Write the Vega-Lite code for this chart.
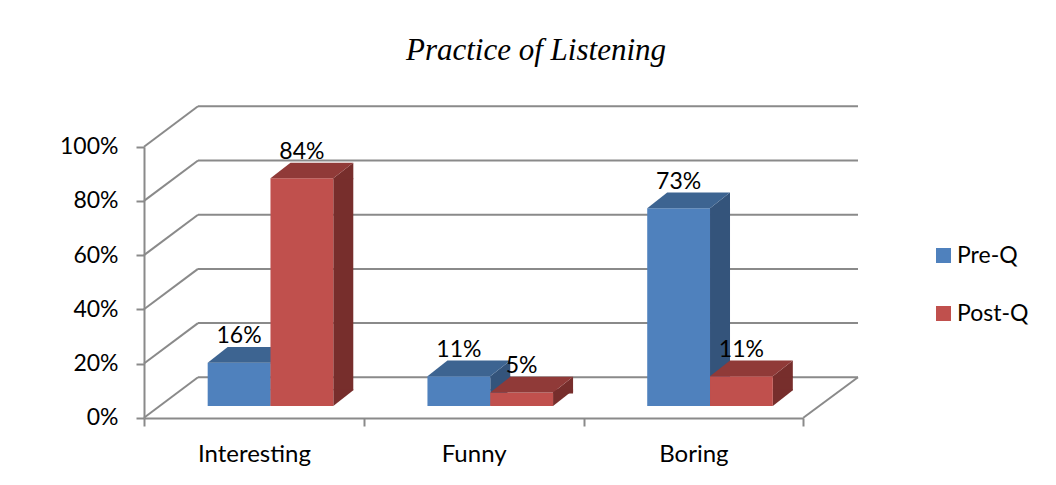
{
  "$schema": "https://vega.github.io/schema/vega-lite/v6.json",
  "width": 714,
  "height": 312,
  "autosize": {"type": "none"},
  "padding": {"left": 144, "top": 106, "right": 198, "bottom": 67},
  "background": "white",
  "title": {
    "text": "Practice of Listening",
    "font": "Liberation Serif",
    "fontStyle": "italic",
    "fontWeight": "normal",
    "fontSize": 31,
    "color": "#000000",
    "anchor": "middle",
    "frame": "group",
    "baseline": "alphabetic",
    "dx": 35,
    "offset": 14
  },
  "datasets": {
    "answers": [
      {"category": "Interesting", "series": "Pre-Q", "value": 0.16},
      {"category": "Interesting", "series": "Post-Q", "value": 0.84},
      {"category": "Funny", "series": "Pre-Q", "value": 0.11},
      {"category": "Funny", "series": "Post-Q", "value": 0.05},
      {"category": "Boring", "series": "Pre-Q", "value": 0.73},
      {"category": "Boring", "series": "Post-Q", "value": 0.11}
    ],
    "grid": [{"v": 0}, {"v": 0.2}, {"v": 0.4}, {"v": 0.6}, {"v": 0.8}, {"v": 1}],
    "floor": [{"v": 0}]
  },
  "data": {"name": "answers"},
  "layer": [
    {
      "data": {"name": "grid"},
      "mark": {"type": "rule", "stroke": "#8a8a8a", "strokeWidth": 2, "xOffset": 54, "yOffset": -40.4, "y2Offset": -40.4},
      "encoding": {
        "x": {"value": 0},
        "x2": {"value": "width"},
        "y": {
          "field": "v", "type": "quantitative", "title": null,
          "scale": {"domain": [0, 1], "range": [311.7, 40.7], "nice": false, "zero": false},
          "axis": {"values": [0, 0.2, 0.4, 0.6, 0.8, 1], "format": ".0%"}
        },
        "y2": {"field": "v"}
      }
    },
    {
      "data": {"name": "grid"},
      "mark": {"type": "rule", "stroke": "#8a8a8a", "strokeWidth": 2, "x2Offset": 54, "y2Offset": -40.4},
      "encoding": {
        "x": {"value": 0},
        "x2": {"value": 0},
        "y": {"field": "v", "type": "quantitative", "title": null},
        "y2": {"field": "v"}
      }
    },
    {
      "data": {"name": "floor"},
      "mark": {"type": "rule", "stroke": "#8a8a8a", "strokeWidth": 2, "xOffset": -54.7, "y2Offset": -40.4},
      "encoding": {
        "x": {"value": "width"},
        "x2": {"value": "width"},
        "y": {"field": "v", "type": "quantitative", "title": null},
        "y2": {"field": "v"}
      }
    },
    {
      "transform": [{"filter": "datum.series === 'Pre-Q'"}],
      "mark": {"type": "bar", "width": 20, "xOffset": 26.6, "yOffset": -11.7, "y2Offset": -27.4, "color": "#34547b"},
      "encoding": {
        "x": {"field": "category", "type": "nominal", "sort": ["Interesting", "Funny", "Boring"], "title": null,
              "scale": {"type": "band", "range": [0, 659.3], "paddingInner": 0, "paddingOuter": 0},
              "axis": {"labelFontSize": 24}},
        "y": {"field": "value", "type": "quantitative", "title": null},
        "y2": {"datum": 0}
      }
    },
    {
      "transform": [{"filter": "datum.series === 'Pre-Q'"}],
      "mark": {"type": "point", "shape": "M31.4,1L31.4,0L51.4,-15.7L51.4,1Z", "size": 4, "filled": true, "opacity": 1, "strokeWidth": 0, "xOffset": -14.8, "yOffset": -11.7, "color": "#34547b"},
      "encoding": {
        "x": {"field": "category", "type": "nominal", "sort": ["Interesting", "Funny", "Boring"], "title": null},
        "y": {"field": "value", "type": "quantitative", "title": null}
      }
    },
    {
      "transform": [{"filter": "datum.series === 'Pre-Q'"}],
      "mark": {"type": "point", "shape": "M31.4,0L51.4,-15.7L51.4,-16.7L31.4,-16.7Z", "size": 4, "filled": true, "opacity": 1, "strokeWidth": 0, "xOffset": -14.8, "yOffset": -11.7, "color": "#34547b"},
      "encoding": {
        "x": {"field": "category", "type": "nominal", "sort": ["Interesting", "Funny", "Boring"], "title": null},
        "y": {"datum": 0}
      }
    },
    {
      "transform": [{"filter": "datum.series === 'Pre-Q'"}],
      "mark": {"type": "bar", "width": 62.8, "xOffset": -14.8, "yOffset": -11.7, "y2Offset": -11.7},
      "encoding": {
        "x": {"field": "category", "type": "nominal", "sort": ["Interesting", "Funny", "Boring"], "title": null},
        "y": {"field": "value", "type": "quantitative", "title": null},
        "y2": {"datum": 0},
        "color": {
          "field": "series", "type": "nominal",
          "scale": {"domain": ["Pre-Q", "Post-Q"], "range": ["#4f81bd", "#c0504d"]},
          "legend": {"title": null}
        }
      }
    },
    {
      "transform": [{"filter": "datum.series === 'Pre-Q'"}],
      "mark": {"type": "point", "shape": "M-31.4,0L31.4,0L51.4,-15.7L-11.4,-15.7Z", "size": 4, "filled": true, "opacity": 1, "strokeWidth": 0, "xOffset": -14.8, "yOffset": -11.7, "color": "#3d6491"},
      "encoding": {
        "x": {"field": "category", "type": "nominal", "sort": ["Interesting", "Funny", "Boring"], "title": null},
        "y": {"field": "value", "type": "quantitative", "title": null}
      }
    },
    {
      "transform": [{"filter": "datum.series === 'Post-Q'"}],
      "mark": {"type": "bar", "width": 20, "xOffset": 89.4, "yOffset": -11.7, "y2Offset": -27.4, "color": "#772e2c"},
      "encoding": {
        "x": {"field": "category", "type": "nominal", "sort": ["Interesting", "Funny", "Boring"], "title": null},
        "y": {"field": "value", "type": "quantitative", "title": null},
        "y2": {"datum": 0}
      }
    },
    {
      "transform": [{"filter": "datum.series === 'Post-Q'"}],
      "mark": {"type": "point", "shape": "M31.4,1L31.4,0L51.4,-15.7L51.4,1Z", "size": 4, "filled": true, "opacity": 1, "strokeWidth": 0, "xOffset": 48, "yOffset": -11.7, "color": "#772e2c"},
      "encoding": {
        "x": {"field": "category", "type": "nominal", "sort": ["Interesting", "Funny", "Boring"], "title": null},
        "y": {"field": "value", "type": "quantitative", "title": null}
      }
    },
    {
      "transform": [{"filter": "datum.series === 'Post-Q'"}],
      "mark": {"type": "point", "shape": "M31.4,0L51.4,-15.7L51.4,-16.7L31.4,-16.7Z", "size": 4, "filled": true, "opacity": 1, "strokeWidth": 0, "xOffset": 48, "yOffset": -11.7, "color": "#772e2c"},
      "encoding": {
        "x": {"field": "category", "type": "nominal", "sort": ["Interesting", "Funny", "Boring"], "title": null},
        "y": {"datum": 0}
      }
    },
    {
      "transform": [{"filter": "datum.series === 'Post-Q'"}],
      "mark": {"type": "bar", "width": 62.8, "xOffset": 48, "yOffset": -11.7, "y2Offset": -11.7},
      "encoding": {
        "x": {"field": "category", "type": "nominal", "sort": ["Interesting", "Funny", "Boring"], "title": null},
        "y": {"field": "value", "type": "quantitative", "title": null},
        "y2": {"datum": 0},
        "color": {"field": "series", "type": "nominal"}
      }
    },
    {
      "transform": [{"filter": "datum.series === 'Post-Q'"}],
      "mark": {"type": "point", "shape": "M-31.4,0L31.4,0L51.4,-15.7L-11.4,-15.7Z", "size": 4, "filled": true, "opacity": 1, "strokeWidth": 0, "xOffset": 48, "yOffset": -11.7, "color": "#903a38"},
      "encoding": {
        "x": {"field": "category", "type": "nominal", "sort": ["Interesting", "Funny", "Boring"], "title": null},
        "y": {"field": "value", "type": "quantitative", "title": null}
      }
    },
    {
      "transform": [{"filter": "datum.series === 'Pre-Q'"}],
      "mark": {"type": "text", "font": "Lato", "fontSize": 23, "color": "#000000", "baseline": "middle", "align": "center", "xOffset": -14.8, "yOffset": -38.3},
      "encoding": {
        "x": {"field": "category", "type": "nominal", "sort": ["Interesting", "Funny", "Boring"], "title": null},
        "y": {"field": "value", "type": "quantitative", "title": null},
        "text": {"field": "value", "type": "quantitative", "format": ".0%"}
      }
    },
    {
      "transform": [{"filter": "datum.series === 'Post-Q'"}],
      "mark": {"type": "text", "font": "Lato", "fontSize": 23, "color": "#000000", "baseline": "middle", "align": "center", "xOffset": 48, "yOffset": -38.3},
      "encoding": {
        "x": {"field": "category", "type": "nominal", "sort": ["Interesting", "Funny", "Boring"], "title": null},
        "y": {"field": "value", "type": "quantitative", "title": null},
        "text": {"field": "value", "type": "quantitative", "format": ".0%"}
      }
    }
  ],
  "config": {
    "view": {"stroke": null},
    "axis": {
      "grid": false,
      "domainColor": "#8a8a8a",
      "domainWidth": 2,
      "tickColor": "#8a8a8a",
      "tickWidth": 2,
      "tickSize": 8,
      "labelFont": "Lato",
      "labelFontSize": 23,
      "labelColor": "#000000",
      "labelPadding": 18,
      "title": null
    },
    "axisX": {"labelAngle": 0, "tickBand": "extent", "labelPadding": 16},
    "legend": {
      "orient": "none",
      "legendX": 788,
      "legendY": 138,
      "padding": 0,
      "symbolType": "square",
      "symbolSize": 225,
      "symbolStrokeWidth": 0,
      "labelFont": "Lato",
      "labelFontSize": 23,
      "labelColor": "#000000",
      "labelOffset": 2,
      "rowPadding": 34
    }
  }
}
